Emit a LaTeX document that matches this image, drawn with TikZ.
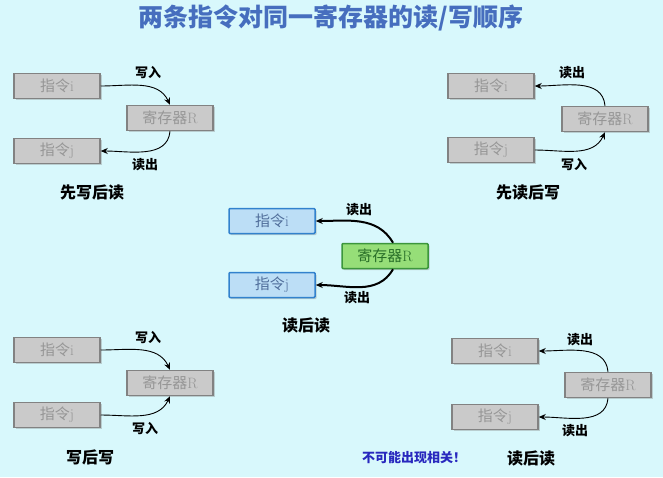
\documentclass[tikz,border=0pt]{standalone}
\usepackage{fontspec}
\usepackage{xcolor}
\usepackage{tikz}
\usetikzlibrary{arrows.meta, shadows}
\newfontfamily\cjk{Noto Sans CJK SC}

\definecolor{bgcyan}{RGB}{216,248,252}
\definecolor{boxgray}{RGB}{202,202,202}
\definecolor{linegray}{RGB}{130,130,130}
\definecolor{txtgray}{RGB}{150,150,150}
\definecolor{boxblue}{RGB}{188,222,246}
\definecolor{lineblue}{RGB}{50,130,205}
\definecolor{txtblue}{RGB}{80,110,155}
\definecolor{boxgreen}{RGB}{150,222,120}
\definecolor{linegreen}{RGB}{60,150,60}
\definecolor{txtgreen}{RGB}{40,110,40}
\definecolor{titleblue}{RGB}{70,110,190}
\definecolor{warnblue}{RGB}{40,40,190}

\begin{document}
\begin{tikzpicture}[x=1pt, y=-1pt,
    instr/.style={draw=linegray, fill=boxgray, text=txtgray, line width=1.5pt,
        minimum width=86pt, minimum height=25pt, inner sep=1pt,
        font=\fontsize{15}{17}\selectfont, drop shadow={opacity=0.35, shadow xshift=1.5pt, shadow yshift=-1.5pt}},
    instrblue/.style={instr, draw=lineblue, fill=boxblue, text=txtblue, rounded corners=1pt},
    instrgreen/.style={instr, draw=linegreen, fill=boxgreen, text=txtgreen, rounded corners=1pt},
    lbl/.style={font=\cjk\bfseries\fontsize{13}{15}\selectfont},
    capt/.style={font=\cjk\bfseries\fontsize{16}{18}\selectfont},
    flow/.style={-{Stealth[length=7pt, width=6pt]}, line width=0.9pt},
    flowthick/.style={flow, line width=2pt}
  ]
    \fill[bgcyan] (0,0) rectangle (663,477);
    \useasboundingbox (0,0) rectangle (663,477);

    \node (title) [font=\cjk\bfseries\fontsize{25}{28}\selectfont, text=titleblue] at (331,18) {两条指令对同一寄存器的读/写顺序};

    % top left: write then read
    \node (tli) [instr] at (57,86) {{\cjk 指令}i};
    \node (tlj) [instr] at (57,151) {{\cjk 指令}j};
    \node (tlR) [instr] at (170,118) {{\cjk 寄存器}R};
    \draw[flow] (tli.east) to[out=0, in=115] (tlR.north);
    \draw[flow] (tlR.south) to[out=-95, in=0] (tlj.east);
    \node (tlw) [lbl] at (148,73) {写入};
    \node (tlr) [lbl] at (145,165) {读出};
    \node (tlc) [capt] at (92,192) {先写后读};

    % top right: read then write
    \node (tri) [instr] at (491,86) {{\cjk 指令}i};
    \node (trj) [instr] at (491,150) {{\cjk 指令}j};
    \node (trR) [instr] at (605,119) {{\cjk 寄存器}R};
    \draw[flow] (trR.north) to[out=95, in=0] (tri.east);
    \draw[flow] (trj.east) to[out=0, in=-115] (trR.south);
    \node (trr) [lbl] at (572,73) {读出};
    \node (trw) [lbl] at (574,165) {写入};
    \node (trc) [capt] at (528,192) {先读后写};

    % middle: read after read
    \node (mi) [instrblue] at (272,221) {{\cjk 指令}i};
    \node (mj) [instrblue] at (272,285) {{\cjk 指令}j};
    \node (mR) [instrgreen] at (385,256) {{\cjk 寄存器}R};
    \draw[flowthick] (mR.north) ++(8,0) to[out=120, in=0] (mi.east);
    \draw[flowthick] (mR.south) ++(8,0) to[out=-120, in=0] (mj.east);
    \node (mr1) [lbl] at (359,210) {读出};
    \node (mr2) [lbl] at (357,298) {读出};
    \node (mc) [capt] at (306,325) {读后读};

    % bottom left: write after write
    \node (bli) [instr] at (57,350) {{\cjk 指令}i};
    \node (blj) [instr] at (57,415) {{\cjk 指令}j};
    \node (blR) [instr] at (170,383) {{\cjk 寄存器}R};
    \draw[flow] (bli.east) to[out=0, in=115] (blR.north);
    \draw[flow] (blj.east) to[out=0, in=-115] (blR.south);
    \node (blw1) [lbl] at (148,338) {写入};
    \node (blw2) [lbl] at (145,429) {写入};
    \node (blc) [capt] at (90,457) {写后写};

    % bottom right: read after read
    \node (bri) [instr] at (495,351) {{\cjk 指令}i};
    \node (brj) [instr] at (495,417) {{\cjk 指令}j};
    \node (brR) [instr] at (608,385) {{\cjk 寄存器}R};
    \draw[flow] (brR.north) to[out=95, in=0] (bri.east);
    \draw[flow] (brR.south) to[out=-95, in=0] (brj.east);
    \node (brr1) [lbl] at (580,340) {读出};
    \node (brr2) [lbl] at (575,431) {读出};
    \node (brn) [font=\cjk\bfseries\fontsize{13}{15}\selectfont, text=warnblue] at (414,458) {不可能出现相关！};
    \node (brc) [capt] at (531,458) {读后读};
\end{tikzpicture}
\end{document}
